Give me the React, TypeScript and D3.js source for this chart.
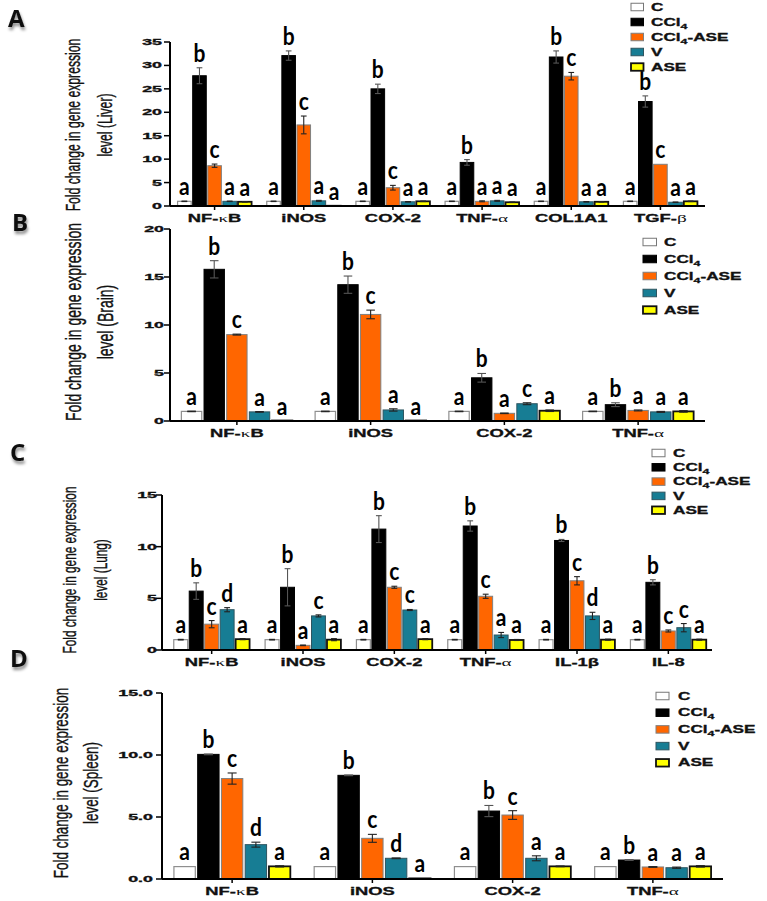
import React from "react";
import * as d3 from "d3";

// ---------- data ----------
const seriesNames = ["C", "CCl4", "CCl4-ASE", "V", "ASE"];

// Liver (A)
const liverGenes = ["NF-κB", "iNOS", "COX-2", "TNF-α", "COL1A1", "TGF-β"];
const liverTicks = [0, 5, 10, 15, 20, 25, 30, 35];
const liverC = [1.0, 1.0, 1.0, 1.0, 1.0, 1.0];
const liverCCl4 = [27.8, 32.1, 25.0, 9.3, 31.8, 22.3];
const liverCCl4ASE = [8.6, 17.3, 3.9, 1.0, 27.7, 8.9];
const liverV = [1.0, 1.1, 0.9, 1.1, 0.9, 0.8];
const liverASE = [0.9, 0.05, 1.0, 0.8, 0.9, 1.0];
const liverErrC = [0.05, 0.05, 0.05, 0.05, 0.05, 0.05];
const liverErrCCl4 = [1.7, 1.0, 1.0, 0.6, 1.3, 1.2];
const liverErrCCl4ASE = [0.35, 1.9, 0.5, 0.1, 0.8, 0.0];
const liverErrV = [0.05, 0.1, 0.05, 0.1, 0.05, 0.05];
const liverErrASE = [0.05, 0.0, 0.05, 0.05, 0.05, 0.05];
const liverLetC = ["a", "a", "a", "a", "a", "a"];
const liverLetCCl4 = ["b", "b", "b", "b", "b", "b"];
const liverLetCCl4ASE = ["c", "c", "c", "a", "c", "c"];
const liverLetV = ["a", "a", "a", "a", "a", "a"];
const liverLetASE = ["a", "a", "a", "a", "a", "a"];

// Brain (B)
const brainGenes = ["NF-κB", "iNOS", "COX-2", "TNF-α"];
const brainTicks = [0, 5, 10, 15, 20];
const brainC = [1.0, 1.0, 1.0, 1.0];
const brainCCl4 = [15.8, 14.2, 4.5, 1.7];
const brainCCl4ASE = [9.0, 11.1, 0.8, 1.1];
const brainV = [0.95, 1.15, 1.8, 0.95];
const brainASE = [0.05, 0.05, 1.07, 1.0];
const brainErrC = [0.03, 0.03, 0.03, 0.03];
const brainErrCCl4 = [0.9, 0.9, 0.45, 0.2];
const brainErrCCl4ASE = [0.05, 0.45, 0.03, 0.05];
const brainErrV = [0.03, 0.12, 0.1, 0.05];
const brainErrASE = [0.0, 0.0, 0.08, 0.08];
const brainLetC = ["a", "a", "a", "a"];
const brainLetCCl4 = ["b", "b", "b", "b"];
const brainLetCCl4ASE = ["c", "c", "a", "a"];
const brainLetV = ["a", "a", "c", "a"];
const brainLetASE = ["a", "a", "a", "a"];

// Lung (C)
const lungGenes = ["NF-κB", "iNOS", "COX-2", "TNF-α", "IL-1β", "IL-8"];
const lungTicks = [0, 5, 10, 15];
const lungC = [1.0, 1.0, 1.0, 1.0, 1.0, 1.0];
const lungCCl4 = [5.7, 6.07, 11.7, 12.0, 10.6, 6.55];
const lungCCl4ASE = [2.5, 0.45, 6.07, 5.2, 6.7, 1.84];
const lungV = [3.9, 3.3, 3.87, 1.45, 3.3, 2.16];
const lungASE = [1.05, 1.0, 1.05, 0.97, 1.0, 1.0];
const lungErrC = [0.03, 0.03, 0.03, 0.03, 0.03, 0.03];
const lungErrCCl4 = [0.8, 1.8, 1.3, 0.5, 0.1, 0.25];
const lungErrCCl4ASE = [0.35, 0.03, 0.1, 0.2, 0.4, 0.1];
const lungErrV = [0.2, 0.1, 0.05, 0.25, 0.35, 0.4];
const lungErrASE = [0.05, 0.1, 0.05, 0.05, 0.05, 0.05];
const lungLetC = ["a", "a", "a", "a", "a", "a"];
const lungLetCCl4 = ["b", "b", "b", "b", "b", "b"];
const lungLetCCl4ASE = ["c", "a", "c", "c", "c", "c"];
const lungLetV = ["d", "c", "c", "a", "d", "c"];
const lungLetASE = ["a", "a", "a", "a", "a", "a"];

// Spleen (D)
const spleenGenes = ["NF-κB", "iNOS", "COX-2", "TNF-α"];
const spleenTicks = [0, 5, 10, 15];
const spleenTickLabels = ["0.0", "5.0", "10.0", "15.0"];
const spleenC = [1.0, 1.0, 1.0, 1.0];
const spleenCCl4 = [10.05, 8.36, 5.48, 1.53];
const spleenCCl4ASE = [8.1, 3.28, 5.16, 0.97];
const spleenV = [2.77, 1.67, 1.67, 0.91];
const spleenASE = [1.02, 0.05, 1.02, 1.02];
const spleenErrC = [0.02, 0.02, 0.02, 0.02];
const spleenErrCCl4 = [0.03, 0.03, 0.45, 0.03];
const spleenErrCCl4ASE = [0.45, 0.32, 0.35, 0.03];
const spleenErrV = [0.2, 0.03, 0.2, 0.05];
const spleenErrASE = [0.05, 0.0, 0.03, 0.06];
const spleenLetC = ["a", "a", "a", "a"];
const spleenLetCCl4 = ["b", "b", "b", "b"];
const spleenLetCCl4ASE = ["c", "c", "c", "a"];
const spleenLetV = ["d", "d", "a", "a"];
const spleenLetASE = ["a", "a", "a", "a"];

// ---------- styles ----------
const seriesFill = ["#ffffff", "#000000", "#ff6600", "#177d94", "#ffff00"];
const seriesStroke = ["#8f8f8f", "#000000", "#808080", "#2e5560", "#111111"];
const seriesStrokeW = [1.2, 1, 1, 1, 1.8];

const WIDE = "'Liberation Sans', Arial, sans-serif";
const LETTER = "Lato, 'Open Sans', sans-serif";

type Layout = {
  letter: string; letterX: number; letterY: number;
  organ: string;
  titleX1: number; titleX2: number; titleY: number; titleFs: number; titleSx: number;
  axX: number; axEnd: number; bandStart: number; bandEnd: number;
  yTop: number; yBottom: number;
  tickLabelRight: number;
  legX: number; legY: number; legStep: number; legW: number; legH: number; legTextX: number;
};

type PanelData = {
  genes: string[];
  ticks: number[];
  tickLabels: string[];
  means: number[][];
  errs: number[][];
  letters: string[][];
};

const panels: { data: PanelData; lay: Layout }[] = [
  {
    data: {
      genes: liverGenes, ticks: liverTicks, tickLabels: liverTicks.map(String),
      means: [liverC, liverCCl4, liverCCl4ASE, liverV, liverASE],
      errs: [liverErrC, liverErrCCl4, liverErrCCl4ASE, liverErrV, liverErrASE],
      letters: [liverLetC, liverLetCCl4, liverLetCCl4ASE, liverLetV, liverLetASE],
    },
    lay: {
      letter: "A", letterX: 8, letterY: 27, organ: "Liver",
      titleX1: 80, titleX2: 112, titleY: 125, titleFs: 20, titleSx: 0.61,
      axX: 170, axEnd: 705, bandStart: 170, bandEnd: 705, yTop: 42, yBottom: 206,
      tickLabelRight: 162,
      legX: 631, legY: 7, legStep: 15, legW: 12.5, legH: 7.5, legTextX: 651,
    },
  },
  {
    data: {
      genes: brainGenes, ticks: brainTicks, tickLabels: brainTicks.map(String),
      means: [brainC, brainCCl4, brainCCl4ASE, brainV, brainASE],
      errs: [brainErrC, brainErrCCl4, brainErrCCl4ASE, brainErrV, brainErrASE],
      letters: [brainLetC, brainLetCCl4, brainLetCCl4ASE, brainLetV, brainLetASE],
    },
    lay: {
      letter: "B", letterX: 12, letterY: 231, organ: "Brain",
      titleX1: 81, titleX2: 113, titleY: 322, titleFs: 21.5, titleSx: 0.65,
      axX: 170, axEnd: 705, bandStart: 170, bandEnd: 705, yTop: 229, yBottom: 421,
      tickLabelRight: 164,
      legX: 643, legY: 242, legStep: 17, legW: 13.5, legH: 7.5, legTextX: 664,
    },
  },
  {
    data: {
      genes: lungGenes, ticks: lungTicks, tickLabels: lungTicks.map(String),
      means: [lungC, lungCCl4, lungCCl4ASE, lungV, lungASE],
      errs: [lungErrC, lungErrCCl4, lungErrCCl4ASE, lungErrV, lungErrASE],
      letters: [lungLetC, lungLetCCl4, lungLetCCl4ASE, lungLetV, lungLetASE],
    },
    lay: {
      letter: "C", letterX: 10, letterY: 461, organ: "Lung",
      titleX1: 76, titleX2: 107, titleY: 570, titleFs: 19, titleSx: 0.62,
      axX: 162, axEnd: 712, bandStart: 166, bandEnd: 714, yTop: 495, yBottom: 650,
      tickLabelRight: 157,
      legX: 652, legY: 453, legStep: 14.3, legW: 13, legH: 7.5, legTextX: 673,
    },
  },
  {
    data: {
      genes: spleenGenes, ticks: spleenTicks, tickLabels: spleenTickLabels,
      means: [spleenC, spleenCCl4, spleenCCl4ASE, spleenV, spleenASE],
      errs: [spleenErrC, spleenErrCCl4, spleenErrCCl4ASE, spleenErrV, spleenErrASE],
      letters: [spleenLetC, spleenLetCCl4, spleenLetCCl4ASE, spleenLetV, spleenLetASE],
    },
    lay: {
      letter: "D", letterX: 10, letterY: 667, organ: "Spleen",
      titleX1: 68, titleX2: 98, titleY: 783, titleFs: 21, titleSx: 0.64,
      axX: 162, axEnd: 723, bandStart: 162, bandEnd: 723, yTop: 693, yBottom: 879,
      tickLabelRight: 153,
      legX: 656, legY: 696, legStep: 16.7, legW: 13, legH: 7.5, legTextX: 678,
    },
  },
];

// ---------- helpers ----------
function WText(props: {
  x: number; y: number; fs: number; sx: number; anchor?: string; dy?: string;
  weight?: string | number; family?: string; children: React.ReactNode; fill?: string;
}) {
  const { x, y, fs, sx, anchor = "start", dy, weight = "bold", family = WIDE, children, fill = "#111" } = props;
  return (
    <text
      transform={`translate(${x},${y}) scale(${sx},1)`}
      fontSize={fs}
      fontFamily={family}
      fontWeight={weight}
      textAnchor={anchor}
      dy={dy}
      fill={fill}
      stroke={fill}
      strokeWidth={0.3}
    >
      {children}
    </text>
  );
}

function geneLabel(g: string) {
  const m = g.match(/^(.*-)([κβα])(.*)$/);
  if (m) {
    return (
      <>
        <tspan>{m[1]}</tspan>
        <tspan fontWeight="normal" fontFamily="'Liberation Serif', serif" fontSize="1.05em" strokeWidth={0}>{m[2]}</tspan>
        <tspan>{m[3]}</tspan>
      </>
    );
  }
  return g;
}

function seriesLabel(s: string) {
  if (s.startsWith("CCl4")) {
    const rest = s.slice(4);
    return (
      <>
        <tspan>CCl</tspan>
        <tspan fontSize="0.72em" dy="3">4</tspan>
        {rest ? <tspan dy="-3">{rest}</tspan> : null}
      </>
    );
  }
  return s;
}

function Panel({ data, lay }: { data: PanelData; lay: Layout }) {
  const yMax = d3.max(data.ticks) as number;
  const y = d3.scaleLinear().domain([0, yMax]).range([lay.yBottom, lay.yTop]);
  const x0 = d3
    .scaleBand<string>()
    .domain(data.genes)
    .range([lay.bandStart, lay.bandEnd])
    .paddingInner(0.17)
    .paddingOuter(0.085);
  const x1 = d3
    .scaleBand<string>()
    .domain(seriesNames)
    .range([0, x0.bandwidth()])
    .paddingInner(0.1)
    .paddingOuter(0);
  const bw = x1.bandwidth();

  return (
    <g>
      {/* panel letter */}
      <text
        x={lay.letterX}
        y={lay.letterY}
        fontFamily="'Open Sans', sans-serif"
        fontWeight="bold"
        fontSize={24}
        fill="#111"
        filter="url(#shadow)"
      >
        {lay.letter}
      </text>

      {/* y title */}
      <text
        transform={`translate(${lay.titleX1},${lay.titleY}) rotate(-90) scale(${lay.titleSx},1)`}
        fontSize={lay.titleFs}
        fontFamily="'Liberation Sans', Arial, sans-serif"
        textAnchor="middle"
        fill="#111"
        stroke="#111"
        strokeWidth={0.4}
      >
        Fold change in gene expression
      </text>
      <text
        transform={`translate(${lay.titleX2},${lay.titleY}) rotate(-90) scale(${lay.titleSx},1)`}
        fontSize={lay.titleFs}
        fontFamily="'Liberation Sans', Arial, sans-serif"
        textAnchor="middle"
        fill="#111"
        stroke="#111"
        strokeWidth={0.4}
      >
        {`level (${lay.organ})`}
      </text>

      {/* bars */}
      {data.genes.map((g, gi) =>
        seriesNames.map((s, si) => {
          const v = data.means[si][gi];
          const e = data.errs[si][gi];
          const bx = (x0(g) as number) + (x1(s) as number);
          const cx = bx + bw / 2;
          const top = y(v);
          const capW = bw * 0.42;
          return (
            <g key={g + s}>
              <rect
                x={bx}
                y={top}
                width={bw}
                height={Math.max(0, y(0) - top)}
                fill={seriesFill[si]}
                stroke={seriesStroke[si]}
                strokeWidth={seriesStrokeW[si]}
              />
              {e > 0.02 && (
                <g stroke={si === 1 ? "#555" : "#222"} strokeWidth={1.1}>
                  <line x1={cx} x2={cx} y1={y(v - e)} y2={y(v + e)} />
                  <line x1={cx - capW / 2} x2={cx + capW / 2} y1={y(v + e)} y2={y(v + e)} />
                  <line x1={cx - capW / 2} x2={cx + capW / 2} y1={y(v - e)} y2={y(v - e)} />
                </g>
              )}
              <text
                transform={`translate(${cx},${y(v + e) - 6}) scale(1,1.15)`}
                textAnchor="middle"
                fontFamily={LETTER}
                fontWeight="bold"
                fontSize={21}
                fill="#000"
              >
                {data.letters[si][gi]}
              </text>
            </g>
          );
        })
      )}

      {/* y axis */}
      <line x1={lay.axX} x2={lay.axX} y1={lay.yTop} y2={lay.yBottom} stroke="#000" strokeWidth={2} />
      {data.ticks.map((t, i) => (
        <g key={t}>
          <line x1={lay.axX - 6} x2={lay.axX} y1={y(t)} y2={y(t)} stroke="#000" strokeWidth={1.5} />
          <WText x={lay.tickLabelRight} y={y(t)} dy="0.36em" fs={8.5} sx={2.1} anchor="end">
            {data.tickLabels[i]}
          </WText>
        </g>
      ))}

      {/* x axis */}
      <line x1={lay.axX} x2={lay.axEnd} y1={lay.yBottom} y2={lay.yBottom} stroke="#000" strokeWidth={2} />
      {data.genes.map((g) => {
        const c = (x0(g) as number) + x0.bandwidth() / 2;
        return (
          <g key={g}>
            <line x1={c} x2={c} y1={lay.yBottom} y2={lay.yBottom + 4} stroke="#000" strokeWidth={1.5} />
            <WText x={c} y={lay.yBottom + 16} fs={10.5} sx={1.75} anchor="middle">
              {geneLabel(g)}
            </WText>
          </g>
        );
      })}

      {/* legend */}
      {seriesNames.map((s, si) => {
        const cy = lay.legY + si * lay.legStep;
        return (
          <g key={s}>
            <rect
              x={lay.legX}
              y={cy - lay.legH / 2}
              width={lay.legW}
              height={lay.legH}
              fill={seriesFill[si]}
              stroke={si === 0 ? "#777" : seriesStroke[si]}
              strokeWidth={si === 4 ? 1.8 : 1}
            />
            <WText x={lay.legTextX} y={cy} dy="0.36em" fs={10} sx={1.72}>
              {seriesLabel(s)}
            </WText>
          </g>
        );
      })}
    </g>
  );
}

export default function App() {
  return (
    <svg
      width={767}
      height={901}
      style={{ position: "absolute", left: 0, top: 0, background: "#fff" }}
    >
      <defs>
        <filter id="shadow" x="-30%" y="-30%" width="160%" height="180%">
          <feDropShadow dx="1" dy="3" stdDeviation="1.5" floodColor="#000" floodOpacity="0.45" />
        </filter>
      </defs>
      <rect x={0} y={0} width={767} height={901} fill="#fff" />
      {panels.map((p) => (
        <Panel key={p.lay.letter} data={p.data} lay={p.lay} />
      ))}
    </svg>
  );
}
